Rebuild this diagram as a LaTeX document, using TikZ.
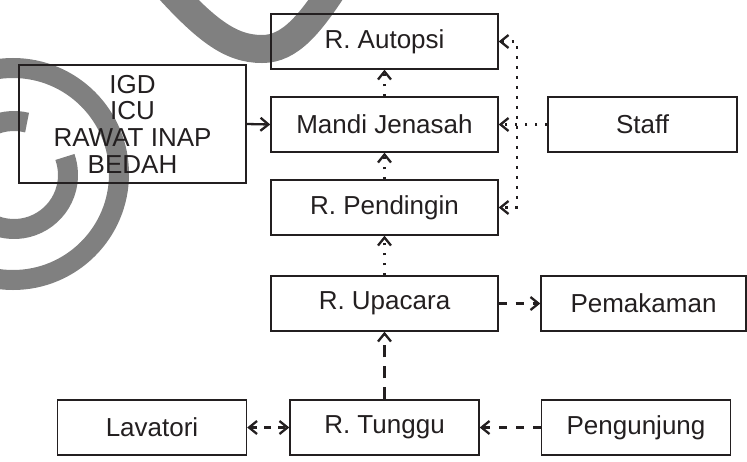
\documentclass[tikz,border=0pt]{standalone}
\usepackage{fontspec}
\setmainfont{Liberation Sans}
\usetikzlibrary{arrows.meta}
\definecolor{ink}{RGB}{35,31,32}
\definecolor{wmgray}{RGB}{128,128,128}
\begin{document}
\begin{tikzpicture}[x=1pt,y=-1pt,
  room/.style={draw=ink,line width=1.4pt,inner sep=0pt,text=ink,
    font=\fontsize{26}{26.7}\selectfont,align=center,
    minimum height=55pt},
  wide/.style={minimum width=227pt},
  narrow/.style={minimum width=189pt},
  barb/.tip={Straight Barb[length=8pt,width=13pt]},
  link/.style={draw=ink,line width=2.3pt,-barb},
  dotline/.style={link,dash pattern=on 2.5pt off 7.5pt},
  dashline/.style={link,dash pattern=on 8pt off 9pt},
  wm/.style={draw=wmgray}]
\useasboundingbox (0,0) rectangle (747,461);

% background swirl marks
\begin{scope}
  \clip (0,0) rectangle (747,461);
  \draw[wm,line width=28pt] (158,-23) .. controls (205,30) and (230,49) .. (262,49)
    .. controls (290,49) and (310,25) .. (340,-22);
  \draw[wm,line width=20pt] (13,174) circle[radius=106];
  \draw[wm,line width=20pt] ([shift={(-76:54)}]14,175)
    arc[start angle=-76,end angle=-379.5,radius=54];
\end{scope}

% rooms
\node[room,wide] (aut) at (384.5,41.5) {R. Autopsi};
\node[room,wide] (mandi) at (384.5,124.5) {Mandi Jenasah};
\node[room,wide] (pend) at (384.5,207.5) {R. Pendingin};
\node[room,wide,minimum height=118pt] (igd) at (132.5,124) {IGD\\ICU\\RAWAT INAP\\BEDAH};
\node[room,narrow] (staff) at (642.5,124.5) {Staff};
\node[room,wide] (upa) at (384.5,303.5) {R. Upacara};
\node[room,minimum width=205pt] (pem) at (643.5,303.5) {Pemakaman};
\node[room,narrow] (tung) at (384.5,427.5) {R. Tunggu};
\node[room,narrow] (lav) at (152,427.5) {Lavatori};
\node[room,narrow] (peng) at (636,427.5) {Pengunjung};

% connections
\draw[link] (igd.east) -- (mandi.west);
\draw[dotline] (mandi) -- (aut);
\draw[dotline] (pend) -- (mandi);
\draw[dotline] (upa) -- (pend);
\draw[dotline] (staff.west) -- (mandi.east);
\draw[dotline,barb-barb] (aut.east) -- ++(18,0) |- (pend.east);
\draw[dashline] (upa.east) -- (pem.west);
\draw[dashline,dash pattern=on 12pt off 9pt] (tung) -- (upa);
\draw[dashline] (peng.west) -- (tung.east);
\draw[dashline,dash pattern=on 7pt off 7pt,barb-barb] (lav.east) -- (tung.west);
\end{tikzpicture}
\end{document}
